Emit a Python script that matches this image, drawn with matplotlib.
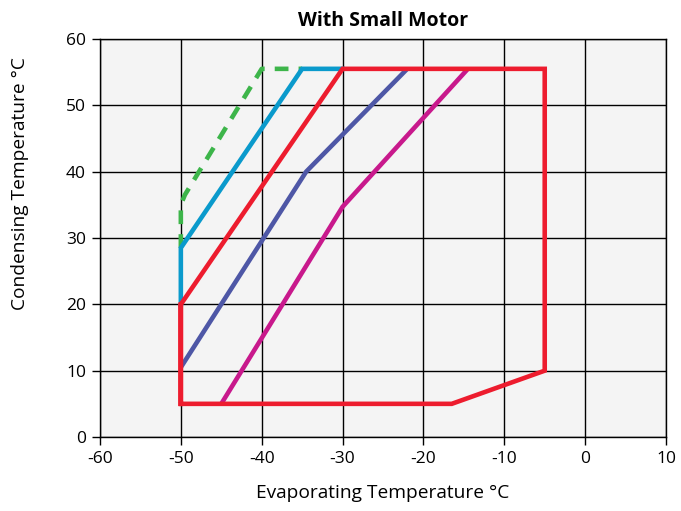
import matplotlib
matplotlib.use("Agg")
import matplotlib.pyplot as plt

plt.rcParams['font.family'] = ['Open Sans', 'DejaVu Sans']
plt.rcParams['axes.unicode_minus'] = False

# Data
red_x = [-50, -50, -30, -5, -5, -16.5, -50, -50]
red_y = [5, 20, 55.5, 55.5, 10, 5, 5, 20]
cyan_x = [-50, -50, -35, -30]
cyan_y = [20, 28.5, 55.5, 55.5]
green_x = [-50, -50, -49.5, -40, -35]
green_y = [28.5, 35, 36.5, 55.5, 55.5]
navy_x = [-50, -34.5, -22]
navy_y = [10.5, 40, 55.5]
magenta_x = [-45, -30, -14.5]
magenta_y = [5, 34.7, 55.5]
xticks = [-60, -50, -40, -30, -20, -10, 0, 10]
yticks = [0, 10, 20, 30, 40, 50, 60]

fig = plt.figure(figsize=(6.81, 5.11), dpi=100)
ax = fig.add_axes([0.1468, 0.1448, 0.978 - 0.1468, 0.9237 - 0.1448])
ax.set_facecolor('#F4F4F4')
ax.set_xlim(-60, 10)
ax.set_ylim(0, 60)
ax.set_xticks(xticks)
ax.set_yticks(yticks)
ax.grid(True, color='black', linewidth=1.0)
ax.set_axisbelow(True)
for s in ax.spines.values():
    s.set_color('black')
    s.set_linewidth(1.0)
ax.tick_params(direction='out', length=6, width=1, labelsize=12.5, pad=4)

lw = 3.3
ax.plot(navy_x, navy_y, color='#4E57A6', lw=lw, solid_capstyle='butt')
ax.plot(magenta_x, magenta_y, color='#C8198C', lw=lw, solid_capstyle='butt')
ax.plot(green_x, green_y, color='#3DB54A', lw=lw, ls=(0, (3, 2.2)), dash_capstyle='butt')
ax.plot(cyan_x, cyan_y, color='#0A9ACC', lw=lw, solid_joinstyle='miter')
ax.plot(red_x, red_y, color='#ED1C2E', lw=lw, solid_joinstyle='miter')

ax.set_title('With Small Motor', fontsize=14, fontweight='bold', pad=9)
ax.set_xlabel('Evaporating Temperature °C', fontsize=13.8, labelpad=12)
ax.set_ylabel('Condensing Temperature °C', fontsize=13.8)
ax.yaxis.set_label_coords(-0.125, 0.638)

fig.savefig('out.png', dpi=100)
